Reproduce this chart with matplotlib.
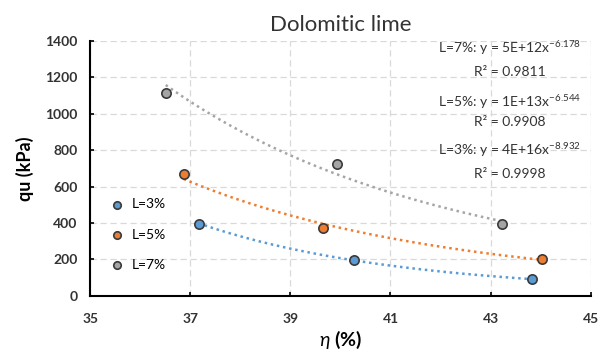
import numpy as np
import matplotlib
matplotlib.use("Agg")
from matplotlib import pyplot as plt

plt.rcParams['font.family'] = ['Lato', 'DejaVu Sans']
plt.rcParams['mathtext.fontset'] = 'custom'
plt.rcParams['mathtext.rm'] = 'Lato'
plt.rcParams['mathtext.it'] = 'Lato:italic'

# porosity (%) and unconfined strength (kPa)
eta_3 = [37.17, 40.28, 43.83]
qu_3 = [396, 197, 91]
eta_5 = [36.87, 39.65, 44.02]
qu_5 = [667, 371, 203]
eta_7 = [36.51, 39.93, 43.23]
qu_7 = [1116, 723, 393]

labels = ['L=3%', 'L=5%', 'L=7%']
colors = ['#5B9BD5', '#ED7D31', '#A5A5A5']
eq_lines = ['L=3%: y = 4E+16x$^{-8.932}$', 'L=5%: y = 1E+13x$^{-6.544}$', 'L=7%: y = 5E+12x$^{-6.178}$']
r2_lines = ['R² = 0.9998', 'R² = 0.9908', 'R² = 0.9811']
eq_pos = [0.573, 0.761, 0.973]
r2_pos = [0.478, 0.682, 0.878]

fig = plt.figure(figsize=(6.09, 3.63), dpi=100)
ax = fig.add_axes([0.148, 0.185, 0.822, 0.702])

series = [(eta_3, qu_3), (eta_5, qu_5), (eta_7, qu_7)]
for (x, y), lab, c in zip(series, labels, colors):
    x = np.array(x, dtype=float)
    y = np.array(y, dtype=float)
    # power trendline, fitted in log space like Excel does
    b, loga = np.polyfit(np.log(x), np.log(y), 1)
    xs = np.linspace(x.min(), x.max(), 100)
    ax.plot(xs, np.exp(loga) * xs ** b, linestyle=(0, (1, 1.5)), color=c, lw=1.8, zorder=2)
    ax.scatter(x, y, s=45, color=c, edgecolor='#3a3a3a', linewidth=1.2, zorder=3, label=lab)

for eq, r2, ye, yr in zip(eq_lines, r2_lines, eq_pos, r2_pos):
    ax.text(0.838, ye, eq, transform=ax.transAxes, ha='center', va='center',
            fontsize=10, color='#333333')
    ax.text(0.838, yr, r2, transform=ax.transAxes, ha='center', va='center',
            fontsize=10, color='#333333')

ax.set_xlim(35, 45)
ax.set_ylim(0, 1400)
ax.set_xticks(np.arange(35, 46, 2))
ax.set_yticks(np.arange(0, 1401, 200))
ax.grid(True, color='#d9d9d9', linestyle=(0, (5, 3)), lw=0.9)
ax.set_axisbelow(True)
for s in ['top', 'right']:
    ax.spines[s].set_visible(False)
for s in ['left', 'bottom']:
    ax.spines[s].set_linewidth(1.5)
ax.tick_params(direction='in', length=3, width=1.2, labelsize=10)
ax.tick_params(axis='x', pad=12)
ax.tick_params(axis='y', pad=9)
for t in ax.get_xticklabels() + ax.get_yticklabels():
    t.set_fontweight('bold')
    t.set_color('#333333')

ax.set_title('Dolomitic lime', fontsize=16, color='#333333', pad=7)
ax.set_ylabel('qu (kPa)', fontsize=13, fontweight='bold', labelpad=8)
ax.set_xlabel(r'$\it{\eta}$ (%)', fontsize=14, fontweight='bold', labelpad=3)

ax.legend(loc='lower left', bbox_to_anchor=(0.0, 0.05), frameon=False, fontsize=10,
          labelspacing=1.3, handletextpad=0.1, markerscale=0.8, borderaxespad=0.5)

fig.savefig('out.png', dpi=100)
